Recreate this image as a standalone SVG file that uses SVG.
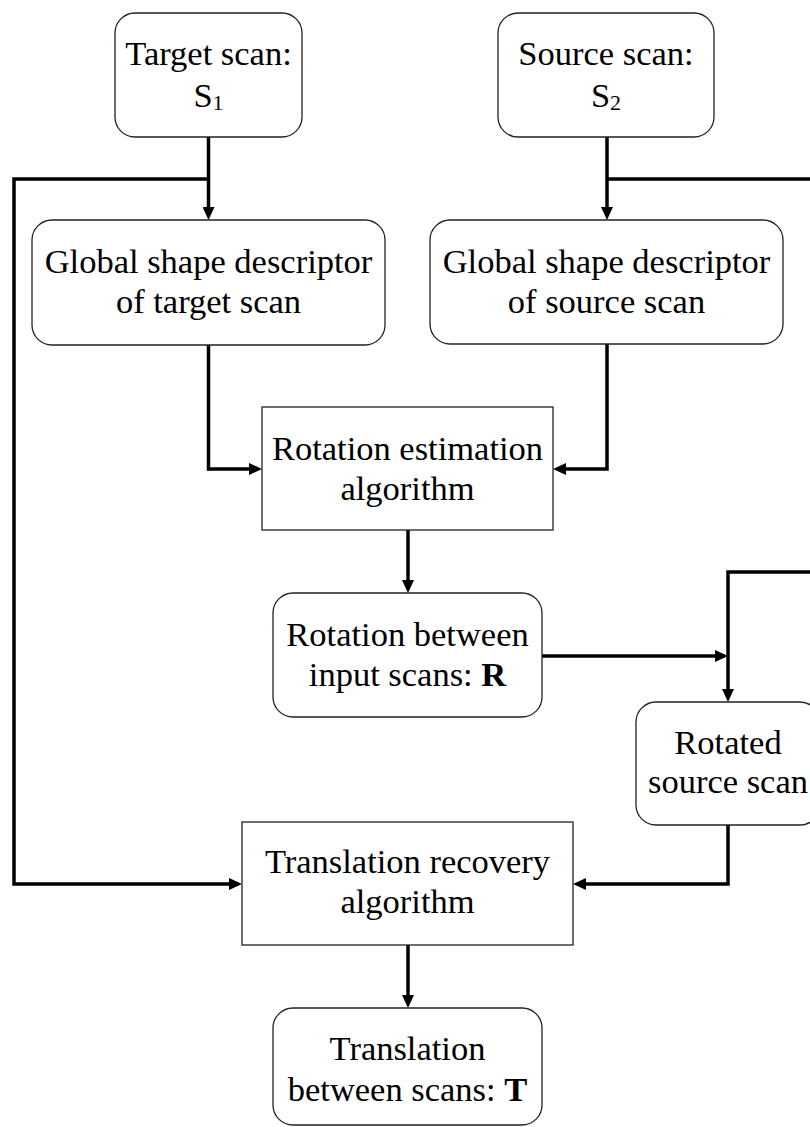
<svg xmlns="http://www.w3.org/2000/svg" width="810" height="1127" viewBox="0 0 810 1127">
<defs>
<style>
.box{fill:#fff;stroke:#222;stroke-width:1.3}
.t{font-family:"Liberation Serif","Times New Roman",serif;font-size:34.5px;fill:#000;text-anchor:middle}
.c{fill:none;stroke:#000;stroke-width:3.5;stroke-linejoin:miter}
.a{marker-end:url(#ah)}
</style>
<marker id="ah" viewBox="0 0 13 12" markerWidth="13" markerHeight="12" refX="0" refY="6" orient="auto" markerUnits="userSpaceOnUse">
<path d="M0,0 L13,6 L0,12 z" fill="#000"/>
</marker>
</defs>
<rect width="810" height="1127" fill="#fff"/>
<g id="connectors">
<path class="c a" d="M208.5 137 V207"/>
<path class="c a" d="M208.5 179 H14 V884 H229"/>
<path class="c a" d="M607 137 V207"/>
<path class="c a" d="M607 179 H816 V572 H728 V689"/>
<path class="c a" d="M208.5 345 V469 H249"/>
<path class="c a" d="M607 344 V469 H566"/>
<path class="c a" d="M408 530 V580"/>
<path class="c a" d="M542 656 H715"/>
<path class="c a" d="M728 825 V884 H586"/>
<path class="c a" d="M408 945 V995"/>
</g>
<g id="target-scan">
<rect class="box" x="115" y="13" width="187" height="124" rx="20"/>
<text class="t" x="208.5" y="65">Target scan:</text>
<text class="t" x="208.5" y="107">S<tspan font-size="22" dy="3">1</tspan></text>
</g>
<g id="source-scan">
<rect class="box" x="498" y="13" width="216" height="124" rx="20"/>
<text class="t" x="606" y="65">Source scan:</text>
<text class="t" x="606" y="107">S<tspan font-size="22" dy="3">2</tspan></text>
</g>
<g id="gsd-target">
<rect class="box" x="32" y="220" width="353" height="125" rx="20"/>
<text class="t" x="208.5" y="273">Global shape descriptor</text>
<text class="t" x="208.5" y="313">of target scan</text>
</g>
<g id="gsd-source">
<rect class="box" x="430" y="220" width="353" height="124" rx="20"/>
<text class="t" x="606.5" y="273">Global shape descriptor</text>
<text class="t" x="606.5" y="313">of source scan</text>
</g>
<g id="rotation-estimation">
<rect class="box" x="262" y="407" width="291" height="123"/>
<text class="t" x="407.5" y="460">Rotation estimation</text>
<text class="t" x="407.5" y="500">algorithm</text>
</g>
<g id="rotation-result">
<rect class="box" x="273" y="593" width="269" height="124" rx="20"/>
<text class="t" x="407.5" y="646">Rotation between</text>
<text class="t" x="407.5" y="686">input scans: <tspan font-weight="bold">R</tspan></text>
</g>
<g id="rotated-source">
<rect class="box" x="636" y="702" width="184" height="123" rx="20"/>
<text class="t" x="728" y="754">Rotated</text>
<text class="t" x="728" y="793">source scan</text>
</g>
<g id="translation-recovery">
<rect class="box" x="242" y="822" width="331" height="123"/>
<text class="t" x="407.5" y="873">Translation recovery</text>
<text class="t" x="407.5" y="913">algorithm</text>
</g>
<g id="translation-result">
<rect class="box" x="273" y="1008" width="269" height="117" rx="20"/>
<text class="t" x="407.5" y="1060">Translation</text>
<text class="t" x="407.5" y="1101">between scans: <tspan font-weight="bold">T</tspan></text>
</g>
</svg>
